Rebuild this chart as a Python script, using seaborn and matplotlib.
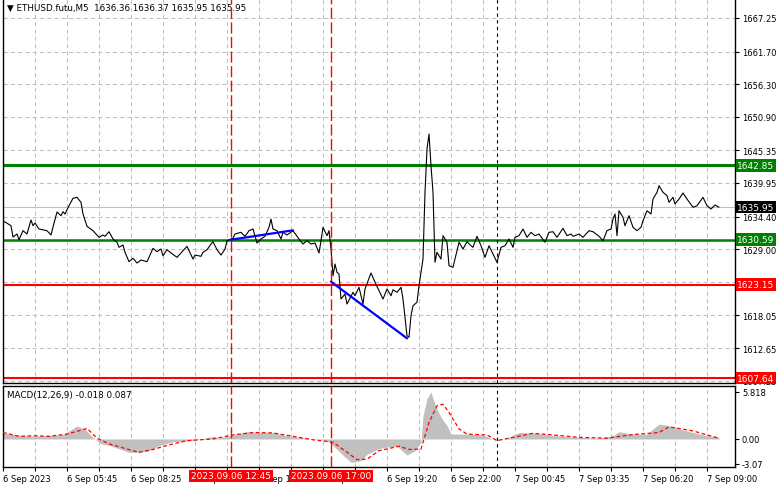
import matplotlib
matplotlib.use('Agg')
import matplotlib.pyplot as plt
import matplotlib.transforms as mtransforms
import pandas as pd
import seaborn as sns

# ETHUSD.futu M5 - bars counted from the left edge of the chart (5-min bars)
price_bar = [0, 4, 5, 7, 8, 10, 12, 14, 15, 16, 18, 22, 24, 25, 27, 29, 30, 31, 33, 35,
             37, 39, 40, 42, 45, 48, 50, 51, 53, 55, 57, 58, 60, 61, 63, 65, 67, 69, 72, 75,
             77, 79, 80, 82, 84, 87, 90, 92, 95, 96, 99, 100, 102, 104, 105, 107, 109, 111, 112, 115,
             116, 119, 121, 123, 125, 127, 129, 131, 133, 134, 135, 137, 139, 140, 142, 145, 148, 150, 152, 154,
             156, 158, 159, 160, 162, 163, 164, 165, 166, 167, 168, 169, 171, 172, 175, 176, 178, 180, 181, 184,
             186, 188, 190, 192, 194, 195, 197, 199, 200, 202, 203, 204, 205, 207, 208, 210, 211, 212, 213, 214,
             215, 216, 217, 219, 220, 222, 223, 225, 228, 230, 232, 234, 235, 237, 239, 241, 243, 245, 247, 249,
             251, 253, 255, 256, 258, 260, 262, 264, 266, 268, 271, 273, 275, 277, 280, 282, 284, 285, 288, 290,
             293, 295, 298, 300, 302, 304, 305, 306, 307, 308, 310, 311, 313, 315, 317, 319, 320, 322, 324, 325,
             327, 328, 330, 332, 333, 335, 336, 338, 340, 342, 345, 347, 350, 352, 354, 356, 358]
price_close = [1633.71, 1632.88, 1631.01, 1631.51, 1630.57, 1632.06, 1631.51, 1633.83, 1632.88, 1633.33,
               1632.34, 1632.06, 1631.34, 1632.67, 1635.15, 1634.54, 1635.20, 1634.82, 1636.19, 1637.42,
               1637.58, 1636.75, 1634.82, 1632.78, 1632.06, 1630.96, 1631.34, 1631.13, 1631.89, 1630.68,
               1630.14, 1629.31, 1629.69, 1628.48, 1626.93, 1627.49, 1626.71, 1627.21, 1626.93, 1629.14,
               1628.58, 1629.03, 1627.92, 1628.91, 1628.37, 1627.65, 1628.75, 1629.47, 1627.37, 1628.03,
               1627.82, 1628.48, 1628.91, 1629.85, 1630.24, 1628.91, 1628.03, 1629.03, 1630.40, 1630.80,
               1631.51, 1631.79, 1631.13, 1632.06, 1632.34, 1630.02, 1630.68, 1631.13, 1632.62, 1633.99,
               1632.34, 1632.06, 1630.68, 1631.79, 1631.34, 1632.06, 1630.68, 1629.85, 1630.40, 1629.85,
               1630.02, 1628.37, 1630.40, 1632.62, 1631.23, 1632.06, 1629.03, 1624.61, 1626.55, 1625.17,
               1624.89, 1620.75, 1621.58, 1619.93, 1621.86, 1621.30, 1622.69, 1619.93, 1622.41, 1625.06,
               1623.52, 1622.13, 1620.75, 1622.41, 1621.30, 1622.29, 1621.86, 1622.69, 1620.75, 1614.68,
               1614.42, 1617.99, 1619.65, 1620.21, 1622.96, 1627.37, 1638.41, 1645.57, 1648.05, 1642.81,
               1638.41, 1626.83, 1628.48, 1627.37, 1631.23, 1630.14, 1626.26, 1626.00, 1630.14, 1629.03,
               1630.24, 1629.57, 1629.31, 1631.13, 1629.57, 1627.65, 1629.57, 1628.20, 1626.83, 1629.31,
               1629.57, 1630.68, 1629.31, 1630.96, 1631.23, 1632.34, 1630.96, 1631.79, 1631.23, 1631.51,
               1630.14, 1631.79, 1631.89, 1630.96, 1632.45, 1631.23, 1631.51, 1631.13, 1631.51, 1630.96,
               1632.06, 1631.89, 1631.13, 1630.40, 1632.06, 1632.34, 1633.99, 1634.82, 1631.23, 1635.36,
               1634.27, 1632.88, 1634.54, 1632.62, 1632.06, 1632.62, 1633.71, 1635.36, 1634.82, 1637.30,
               1638.41, 1639.50, 1638.41, 1637.85, 1636.75, 1637.58, 1636.47, 1637.30, 1638.29, 1637.30,
               1635.93, 1636.19, 1637.58, 1636.19, 1635.65, 1636.31, 1635.95]

macd_bar = [0, 8, 15, 25, 30, 33, 37, 41, 45, 49, 53, 58, 63, 68, 73, 78, 85, 95, 105, 108,
            115, 122, 128, 135, 142, 148, 155, 162, 165, 170, 174, 179, 182, 188, 192, 197, 202, 206, 209, 210,
            212, 214, 215, 217, 219, 222, 224, 232, 240, 245, 247, 252, 258, 265, 272, 280, 288, 297, 305, 308,
            315, 322, 328, 332, 338, 345, 352, 358]
macd_main = [0.75, 0.45, 0.35, 0.45, 0.55, 1.0, 1.6, 1.2, 0.2, -0.6, -0.8, -1.2, -1.65, -1.65, -1.45, -0.8,
             -0.33, -0.2, 0.33, 0.1, 0.5, 0.9, 0.8, 0.8, 0.4, 0.2, 0.0, -0.2, -0.8, -2.0, -2.9, -2.7,
             -1.9, -1.2, -1.0, -0.9, -2.0, -1.45, -0.4, 2.9, 5.0, 5.82, 5.0, 3.7, 2.7, 1.65, 0.6, 0.6,
             0.5, 0.0, -0.2, 0.1, 0.8, 0.75, 0.5, 0.33, 0.2, 0.1, 0.4, 0.9, 0.6, 0.6, 1.85, 1.7,
             1.25, 0.8, 0.4, 0.25]

signal_bar = [0, 8, 15, 23, 32, 42, 47, 53, 62, 68, 75, 82, 92, 105, 115, 125, 135, 145, 155, 165,
              172, 177, 182, 188, 198, 203, 209, 213, 217, 220, 223, 228, 232, 242, 247, 255, 265, 275, 288, 302,
              315, 328, 333, 338, 345, 352, 358]
signal_val = [0.8, 0.33, 0.4, 0.33, 0.6, 1.3, 0.1, -0.6, -1.25, -1.65, -1.3, -0.8, -0.2, 0.0, 0.5, 0.8,
              0.75, 0.33, -0.1, -0.4, -1.65, -2.55, -2.5, -1.45, -0.9, -1.3, -1.25, 2.05, 4.1, 4.3, 3.3, 1.25,
              0.6, 0.5, -0.2, 0.2, 0.7, 0.5, 0.2, 0.1, 0.55, 0.8, 1.5, 1.3, 1.0, 0.5, 0.1]

level_values = [1642.85, 1630.59, 1623.15, 1607.64]
level_colors = ['#008000', '#008000', '#ff0000', '#ff0000']
level_widths = [2.2, 1.8, 1.5, 1.5]
last_price = 1635.95

price_ticks = [1667.25, 1661.70, 1656.30, 1650.90, 1645.35, 1639.95, 1634.40, 1629.00,
               1623.55, 1618.05, 1612.65, 1607.25]
macd_ticks = [5.818, 0.0, -3.07]
macd_tick_labels = ['5.818', '0.00', '-3.07']

time_tick_bars = [0, 32, 64, 96, 128, 160, 192, 224, 256, 288, 320, 352]
time_tick_labels = ['6 Sep 2023', '6 Sep 05:45', '6 Sep 08:25', '6 Sep 11:05', '6 Sep 13:45',
                    '6 Sep 16:25', '6 Sep 19:20', '6 Sep 22:00', '7 Sep 00:45', '7 Sep 03:35',
                    '7 Sep 06:20', '7 Sep 09:00']

trend_up_bar = [114, 145]
trend_up_price = [1630.57, 1632.12]
trend_down_bar = [164, 202]
trend_down_price = [1623.62, 1614.25]

marker_bars = [114, 164]
marker_labels = ['2023.09.06 12:45', '2023.09.06 17:00']
day_sep_bar = 247

sns.set_style('white')
plt.rcParams['font.family'] = ['DejaVu Sans']

W, H = 781, 489
fig = plt.figure(figsize=(W / 100, H / 100), dpi=100)
ax = fig.add_axes([3 / W, (H - 384) / H, 732 / W, 384 / H])
axm = fig.add_axes([3 / W, (H - 468) / H, 732 / W, 81 / H])

grid_kw = dict(color='#c0c0c0', lw=0.75, linestyle=(0, (4, 3)), zorder=0)
for a in (ax, axm):
    a.set_xlim(0, 366)
    for b in range(16, 366, 16):
        a.axvline(b, **grid_kw)
    for b in marker_bars:
        a.axvline(b, color='#ff0000', lw=1.0, linestyle=(0, (8, 2.5)), zorder=4)
    a.axvline(day_sep_bar, color='black', lw=0.8, linestyle=(0, (3, 3)), zorder=4)
    for s in a.spines.values():
        s.set_color('black')
        s.set_linewidth(1.0)

# --- price window ---
ax.set_ylim(1606.86, 1670.39)
for p in price_ticks:
    ax.axhline(p, **grid_kw)
ax.axhline(last_price, color='#c0c0c0', lw=0.8, zorder=1)
for v, c, w in zip(level_values, level_colors, level_widths):
    ax.axhline(v, color=c, lw=w, zorder=2)

df = pd.DataFrame({'bar': price_bar, 'close': price_close})
sns.lineplot(data=df, x='bar', y='close', color='black', linewidth=0.8,
             estimator=None, ax=ax, zorder=3)
sns.lineplot(x=trend_up_bar, y=trend_up_price, color='#0000ff', linewidth=1.6, ax=ax, zorder=5)
sns.lineplot(x=trend_down_bar, y=trend_down_price, color='#0000ff', linewidth=1.6, ax=ax, zorder=5)

ax.spines['top'].set_visible(False)
ax.set_xticks([])
ax.yaxis.tick_right()
ax.set_yticks(price_ticks)
ax.set_yticklabels([f'{p:.2f}' for p in price_ticks])
ax.tick_params(axis='y', length=3, width=0.8, pad=2, labelsize=6, colors='black')
ax.set_xlabel('')
ax.set_ylabel('')

ytrans = ax.get_yaxis_transform()
tag_kw = dict(transform=ytrans, fontsize=6.5, color='white', va='center', ha='left',
              zorder=10, clip_on=False)
for v, c in zip(level_values, level_colors):
    ax.text(1.003, v, f'{v:.2f}', bbox=dict(boxstyle='square,pad=0.18', fc=c, ec='none'), **tag_kw)
ax.text(1.003, last_price, f'{last_price:.2f}',
        bbox=dict(boxstyle='square,pad=0.18', fc='black', ec='none'), **tag_kw)

ax.text(0.0055, 0.977, '\u25bc ETHUSD.futu,M5  1636.36 1636.37 1635.95 1635.95',
        transform=ax.transAxes, fontsize=6.3, va='center', ha='left', color='black')

# --- MACD window ---
axm.set_ylim(-3.47, 6.56)
axm.fill_between(macd_bar, 0, macd_main, color='#c0c0c0', lw=0, zorder=1)
sns.lineplot(x=signal_bar, y=signal_val, color='#ff0000', linewidth=0.9,
             linestyle=(0, (3, 2)), ax=axm, zorder=3)
axm.yaxis.tick_right()
axm.set_yticks(macd_ticks)
axm.set_yticklabels(macd_tick_labels)
axm.tick_params(axis='y', length=3, width=0.8, pad=2, labelsize=6, colors='black')
axm.set_xticks(time_tick_bars)
axm.set_xticklabels(time_tick_labels, ha='left')
axm.set_xticks(list(range(16, 366, 32)), minor=True)
axm.tick_params(axis='x', which='both', length=3, width=0.8, pad=2, labelsize=6,
                colors='black', bottom=True)
axm.set_xlabel('')
axm.set_ylabel('')
axm.text(0.0055, 0.89, 'MACD(12,26,9) -0.018 0.087', transform=axm.transAxes,
         fontsize=6.3, va='center', ha='left', color='black')

xtrans = mtransforms.blended_transform_factory(axm.transData, axm.transAxes)
for b, lab in zip(marker_bars, marker_labels):
    axm.text(b, -0.11, lab, transform=xtrans, fontsize=6.5, color='white', ha='center',
             va='center', zorder=10, clip_on=False,
             bbox=dict(boxstyle='square,pad=0.2', fc='#ff0000', ec='none'))

fig.savefig('out.png', dpi=100, facecolor='white')
